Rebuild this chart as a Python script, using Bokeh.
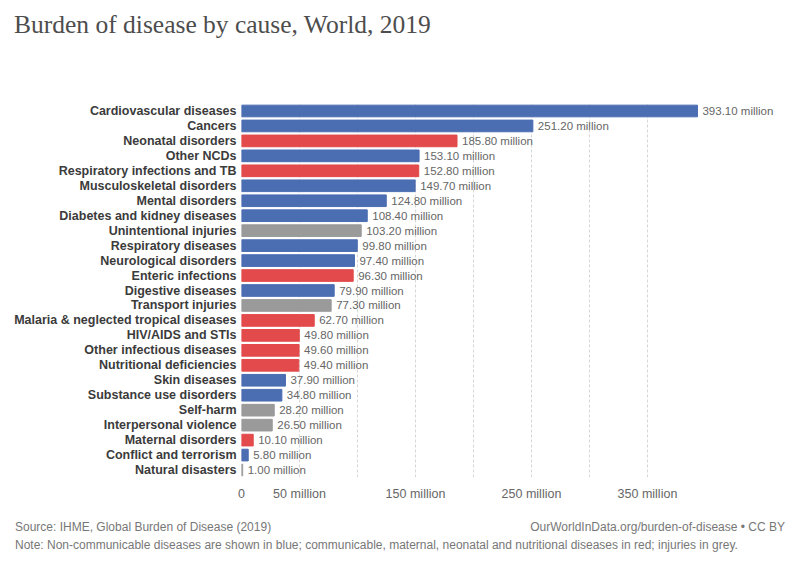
from bokeh.plotting import figure
from bokeh.models import (ColumnDataSource, FactorRange, Range1d, FixedTicker,
                          LabelSet, Div)
from bokeh.layouts import column
from bokeh.core.properties import value
from bokeh.embed import file_html
from bokeh.resources import INLINE

# Disability-adjusted life years (DALYs), millions, World 2019
causes = [
    "Cardiovascular diseases", "Cancers", "Neonatal disorders", "Other NCDs",
    "Respiratory infections and TB", "Musculoskeletal disorders",
    "Mental disorders", "Diabetes and kidney diseases", "Unintentional injuries",
    "Respiratory diseases", "Neurological disorders", "Enteric infections",
    "Digestive diseases", "Transport injuries",
    "Malaria & neglected tropical diseases", "HIV/AIDS and STIs",
    "Other infectious diseases", "Nutritional deficiencies", "Skin diseases",
    "Substance use disorders", "Self-harm", "Interpersonal violence",
    "Maternal disorders", "Conflict and terrorism", "Natural disasters",
]
dalys_million = [
    393.1, 251.2, 185.8, 153.1, 152.8, 149.7, 124.8, 108.4, 103.2, 99.8,
    97.4, 96.3, 79.9, 77.3, 62.7, 49.8, 49.6, 49.4, 37.9, 34.8, 28.2,
    26.5, 10.1, 5.8, 1.0,
]
# N = non-communicable, C = communicable/maternal/neonatal/nutritional, I = injuries
group = [
    "N", "N", "C", "N", "C", "N", "N", "N", "I", "N", "N", "C", "N", "I",
    "C", "C", "C", "C", "N", "N", "I", "I", "C", "N", "I",
]
tick_values = [0, 50, 100, 150, 200, 250, 300, 350]
# labels that would collide with their neighbours are left blank
tick_labels = ["0", "50 million", "", "150 million", "",
               "250 million", "", "350 million"]

title_text = "Burden of disease by cause, World, 2019"
source_text = "Source: IHME, Global Burden of Disease (2019)"
link_text = "OurWorldInData.org/burden-of-disease \u2022 CC BY"
note_text = ("Note: Non-communicable diseases are shown in blue; communicable, "
             "maternal, neonatal and nutritional diseases in red; injuries in grey.")

palette = {"N": "#4b6db2", "C": "#e24a4b", "I": "#9a9a9a"}

src = ColumnDataSource(dict(
    cause=causes,
    value=dalys_million,
    color=[palette[g] for g in group],
    label=[f"{v:.2f} million" for v in dalys_million],
))

W = 800
HEAD_H, PLOT_H, FOOT_H = 95, 415, 55

p = figure(
    width=W, height=PLOT_H,
    y_range=FactorRange(factors=list(reversed(causes))),
    x_range=Range1d(0, 469),
    output_backend="svg", toolbar_location=None,
    min_border_left=241, min_border_right=15,
    min_border_top=8, min_border_bottom=33,
    outline_line_color=None,
)
p.background_fill_color = "white"

p.hbar(y="cause", right="value", left=0, height=0.78, color="color",
       source=src)

p.add_layout(LabelSet(x="value", y="cause", text="label", source=src,
                      x_offset=5, text_baseline="middle",
                      text_font=value("Liberation Sans"),
                      text_font_size=value("11.5px"),
                      text_color=value("#666666")))

# axes
p.yaxis.axis_line_color = None
p.yaxis.major_tick_line_color = None
p.yaxis.minor_tick_line_color = None
p.yaxis.major_tick_out = 0
p.yaxis.major_tick_in = 0
p.yaxis.major_label_standoff = 5
p.yaxis.major_label_text_font = "Liberation Sans"
p.yaxis.major_label_text_font_style = "bold"
p.yaxis.major_label_text_font_size = "12.5px"
p.yaxis.major_label_text_color = "#3b3b3b"

p.xaxis.ticker = FixedTicker(ticks=tick_values)
p.xaxis.major_label_overrides = dict(zip(tick_values, tick_labels))
p.xaxis.axis_line_color = None
p.xaxis.major_tick_line_color = None
p.xaxis.minor_tick_line_color = None
p.xaxis.major_tick_out = 0
p.xaxis.major_tick_in = 0
p.xaxis.major_label_standoff = 9
p.xaxis.major_label_text_font = "Liberation Sans"
p.xaxis.major_label_text_font_size = "12.5px"
p.xaxis.major_label_text_color = "#666666"

p.ygrid.grid_line_color = None
p.xgrid.grid_line_color = "#d6d6d6"
p.xgrid.grid_line_dash = "3 2"

# header and footer
head = Div(
    text=title_text, width=W, height=HEAD_H, margin=0,
    styles={"font-family": "'Liberation Serif', serif", "font-size": "25.5px",
            "color": "#4d4d4d", "padding": "11px 0 0 14px",
            "box-sizing": "border-box", "line-height": "27px"},
)
foot = Div(
    text=(
        '<div style="display:flex;justify-content:space-between;'
        'width:770px;"><span>' + source_text + '</span><span>'
        + link_text.replace("\u2022", "&bull;") + '</span></div>'
        '<div>' + note_text + '</div>'
    ),
    width=W, height=FOOT_H, margin=0,
    styles={"font-family": "'Liberation Sans', sans-serif",
            "font-size": "12px", "color": "#777777",
            "padding": "8px 0 0 15px", "box-sizing": "border-box",
            "line-height": "18px"},
)

layout = column(head, p, foot, spacing=0)

open("out.html", "w").write(file_html(layout, INLINE))
